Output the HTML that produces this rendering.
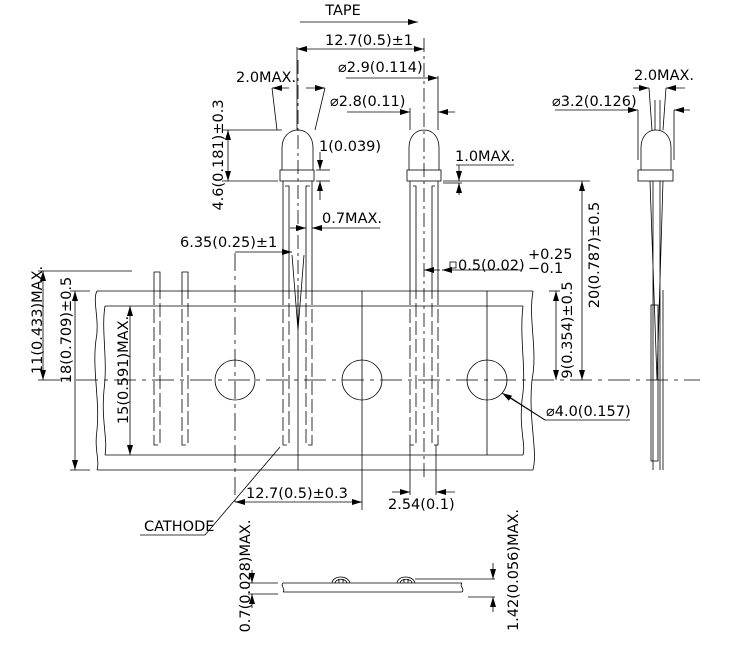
<!DOCTYPE html>
<html><head><meta charset="utf-8"><style>
html,body{margin:0;padding:0;background:#fff;}
svg{display:block;}
text{font-family:"DejaVu Sans","Liberation Sans",sans-serif;font-size:14.5px;fill:#000;}
</style></head><body>
<svg width="729" height="646" viewBox="0 0 729 646" xmlns="http://www.w3.org/2000/svg">
<defs>
<marker id="a" viewBox="0 0 10 6" refX="10" refY="3" markerWidth="10" markerHeight="6" orient="auto-start-reverse" markerUnits="userSpaceOnUse"><path d="M0,0 L10,3 L0,6z" fill="#000"/></marker>
</defs>
<g stroke="#000" stroke-width="0.8" fill="none">
<line x1="38" y1="380" x2="700" y2="380" stroke-dasharray="22,6,4,6"/>
<path d="M97,291 L533,291 M97,470 L533,470"/>
<path d="M97,291 C92,300 100,320 96,340 C92,370 100,400 97,430 C94,450 100,460 97,470"/>
<path d="M533,291 C528,320 538,350 532,380 C528,420 538,450 533,470"/>
<path d="M105,306 L523,306 M105,455 L523,455"/>
<path d="M105,306 C101,330 108,360 104,390 C101,420 108,440 105,455"/>
<path d="M523,306 C519,340 527,370 522,400 C519,430 526,445 523,455"/>
<circle cx="235" cy="380" r="20"/>
<circle cx="362" cy="380" r="20"/>
<circle cx="487" cy="380" r="20"/>
<line x1="235" y1="253" x2="235" y2="502" stroke-dasharray="18,5,4,5"/>
<line x1="362" y1="291" x2="362" y2="510"/>
<line x1="487" y1="291" x2="487" y2="455"/>
<line x1="298" y1="291" x2="298" y2="470"/>
<path d="M154,291 L154,272 L160,272 L160,291 M182,291 L182,272 L188,272 L188,291"/>
<path d="M154,291 L154,445 L160,445 L160,291 M182,291 L182,445 L188,445 L188,291" stroke-dasharray="14,4"/>
<path d="M282,170 L282,148 C282,136 290,130 298,130 C306,130 313,136 313,148 L313,170"/>
<rect x="280" y="170" width="34" height="11"/>
<path d="M283,181 L283,291 M289,291 L289,186 L285,186 M312,181 L312,291 M306,291 L306,186 L310,186"/>
<path d="M283,291 L283,445 L289,445 L289,291 M312,291 L312,445 L306,445 L306,291" stroke-dasharray="14,4"/>
<line x1="298" y1="60" x2="298" y2="330" stroke-dasharray="14,4,3,4"/>
<path d="M292,255 L298,330 L304,255"/>
<path d="M272,88 L277,130 M325,88 L315,130"/>
<path d="M409,170 L409,148 C409,136 416,130 424,130 C432,130 439,136 439,148 L439,170"/>
<rect x="407" y="170" width="34" height="11"/>
<path d="M410,181 L410,291 M416,291 L416,186 L413,186 M438,181 L438,291 M432,291 L432,186 L435,186"/>
<path d="M410,291 L410,445 L416,445 L416,291 M438,291 L438,445 L432,445 L432,291" stroke-dasharray="14,4"/>
<line x1="424" y1="38" x2="424" y2="480" stroke-dasharray="14,4,3,4"/>
<path d="M641,170 L641,148 C641,136 648,130 656,130 C664,130 671,136 671,148 L671,170"/>
<rect x="638" y="170" width="35" height="11"/>
<path d="M653,181 L653,470 M660,181 L660,470 M650,181 L657,380 M663,181 L657,380"/>
<rect x="651" y="305" width="7" height="156"/>
<line x1="663" y1="290" x2="663" y2="470"/>
<line x1="655" y1="100" x2="655" y2="130"/><line x1="660" y1="100" x2="660" y2="130"/>
<path d="M649,88 L652,130 M666,88 L663,130"/>
<path d="M638,110 L638,160 M674,110 L674,160"/>
<path d="M283,583 L462,583 M283,592 L462,592 M283,583 C280,586 286,589 283,592 M462,583 C459,586 465,589 462,592"/>
<path d="M332,583 C333,575 348,575 350,583 M335,583 C336,578 346,578 347,583 M339,579 L339,583 M343,579 L343,583"/>
<path d="M397,583 C398,575 413,575 415,583 M400,583 C401,578 411,578 412,583 M404,579 L404,583 M408,579 L408,583"/>
<line x1="415" y1="579" x2="495" y2="579"/>
<line x1="468" y1="597" x2="495" y2="597"/>
<line x1="248" y1="583" x2="278" y2="583"/><line x1="248" y1="594" x2="278" y2="594"/>
<line x1="252" y1="570" x2="252" y2="583" marker-end="url(#a)"/><line x1="252" y1="608" x2="252" y2="594" marker-end="url(#a)"/>
<line x1="493" y1="563" x2="493" y2="579" marker-end="url(#a)"/><line x1="493" y1="612" x2="493" y2="597" marker-end="url(#a)"/>
<line x1="300" y1="22" x2="418" y2="22" marker-end="url(#a)"/>
<line x1="297" y1="47" x2="297" y2="130"/>
<line x1="297" y1="49" x2="424" y2="49" marker-start="url(#a)" marker-end="url(#a)"/>
<line x1="346" y1="78" x2="438" y2="78" marker-end="url(#a)"/>
<line x1="438" y1="76" x2="438" y2="130"/><line x1="410" y1="108" x2="410" y2="130"/>
<line x1="347" y1="112" x2="410" y2="112" marker-end="url(#a)"/>
<line x1="455" y1="112" x2="438" y2="112" marker-end="url(#a)"/>
<line x1="272" y1="88" x2="289" y2="88" marker-start="url(#a)"/>
<line x1="306" y1="88" x2="325" y2="88" marker-end="url(#a)"/>
<line x1="222" y1="130" x2="282" y2="130"/><line x1="222" y1="181" x2="278" y2="181"/>
<line x1="228" y1="130" x2="228" y2="181" marker-start="url(#a)" marker-end="url(#a)"/>
<line x1="320" y1="152" x2="320" y2="170" marker-end="url(#a)"/>
<line x1="320" y1="200" x2="320" y2="181" marker-end="url(#a)"/>
<line x1="316" y1="170" x2="330" y2="170"/><line x1="316" y1="181" x2="330" y2="181"/>
<line x1="459" y1="165" x2="459" y2="181" marker-end="url(#a)"/>
<line x1="459" y1="195" x2="459" y2="183" marker-end="url(#a)"/>
<line x1="443" y1="181" x2="590" y2="181"/><line x1="443" y1="183" x2="462" y2="183"/>
<line x1="456" y1="165" x2="514" y2="165"/>
<line x1="290" y1="228" x2="306" y2="228" marker-end="url(#a)"/>
<line x1="380" y1="228" x2="312" y2="228" marker-end="url(#a)"/>
<line x1="235" y1="252" x2="292" y2="252" marker-end="url(#a)"/>
<line x1="440" y1="270" x2="424" y2="270" marker-end="url(#a)"/>
<line x1="522" y1="270" x2="442" y2="270" marker-end="url(#a)"/>
<line x1="582" y1="181" x2="582" y2="380" marker-start="url(#a)" marker-end="url(#a)"/>
<line x1="549" y1="291" x2="560" y2="291"/>
<line x1="556" y1="291" x2="556" y2="380" marker-start="url(#a)" marker-end="url(#a)"/>
<line x1="38" y1="271" x2="132" y2="271"/>
<line x1="43" y1="271" x2="43" y2="380" marker-start="url(#a)" marker-end="url(#a)"/>
<line x1="70" y1="291" x2="90" y2="291"/><line x1="70" y1="470" x2="90" y2="470"/>
<line x1="75" y1="291" x2="75" y2="470" marker-start="url(#a)" marker-end="url(#a)"/>
<line x1="130" y1="306" x2="130" y2="455" marker-start="url(#a)" marker-end="url(#a)"/>
<path d="M630,420 L545,420 L508,396"/>
<line x1="545" y1="420" x2="502" y2="393" marker-end="url(#a)"/>
<line x1="235" y1="502" x2="362" y2="502" marker-start="url(#a)" marker-end="url(#a)"/>
<line x1="410" y1="445" x2="410" y2="495"/><line x1="436" y1="445" x2="436" y2="495"/>
<line x1="392" y1="492" x2="410" y2="492" marker-end="url(#a)"/>
<line x1="455" y1="492" x2="436" y2="492" marker-end="url(#a)"/>
<path d="M140,535 L205,535 L280,447"/>
<line x1="555" y1="110" x2="638" y2="110" marker-end="url(#a)"/>
<line x1="690" y1="110" x2="674" y2="110" marker-end="url(#a)"/>
<line x1="633" y1="88" x2="649" y2="88" marker-end="url(#a)"/>
<line x1="685" y1="88" x2="666" y2="88" marker-end="url(#a)"/>
<rect x="450" y="262" width="6" height="6"/>
</g>
<text x="343" y="15" text-anchor="middle">TAPE</text>
<text x="369" y="45" text-anchor="middle">12.7(0.5)±1</text>
<text x="338" y="72">⌀2.9(0.114)</text>
<text x="330" y="106">⌀2.8(0.11)</text>
<text x="236" y="82">2.0MAX.</text>
<text x="319" y="151">1(0.039)</text>
<text x="455" y="161">1.0MAX.</text>
<text x="322" y="223">0.7MAX.</text>
<text x="180" y="247">6.35(0.25)±1</text>
<text x="458" y="270">0.5(0.02)</text>
<text x="528" y="259">+0.25</text>
<text x="528" y="273">−0.1</text>
<text x="546" y="416">⌀4.0(0.157)</text>
<text x="246" y="498">12.7(0.5)±0.3</text>
<text x="388" y="509">2.54(0.1)</text>
<text x="144" y="531">CATHODE</text>
<text x="552" y="106">⌀3.2(0.126)</text>
<text x="634" y="80">2.0MAX.</text>
<text transform="translate(223,155) rotate(-90)" text-anchor="middle">4.6(0.181)±0.3</text>
<text transform="translate(599,255) rotate(-90)" text-anchor="middle">20(0.787)±0.5</text>
<text transform="translate(572,330) rotate(-90)" text-anchor="middle">9(0.354)±0.5</text>
<text transform="translate(42,320) rotate(-90)" text-anchor="middle">11(0.433)MAX.</text>
<text transform="translate(71,330) rotate(-90)" text-anchor="middle">18(0.709)±0.5</text>
<text transform="translate(128,370) rotate(-90)" text-anchor="middle">15(0.591)MAX.</text>
<text transform="translate(250,576) rotate(-90)" text-anchor="middle">0.7(0.028)MAX.</text>
<text transform="translate(518,570) rotate(-90)" text-anchor="middle">1.42(0.056)MAX.</text>
</svg>
</body></html>
